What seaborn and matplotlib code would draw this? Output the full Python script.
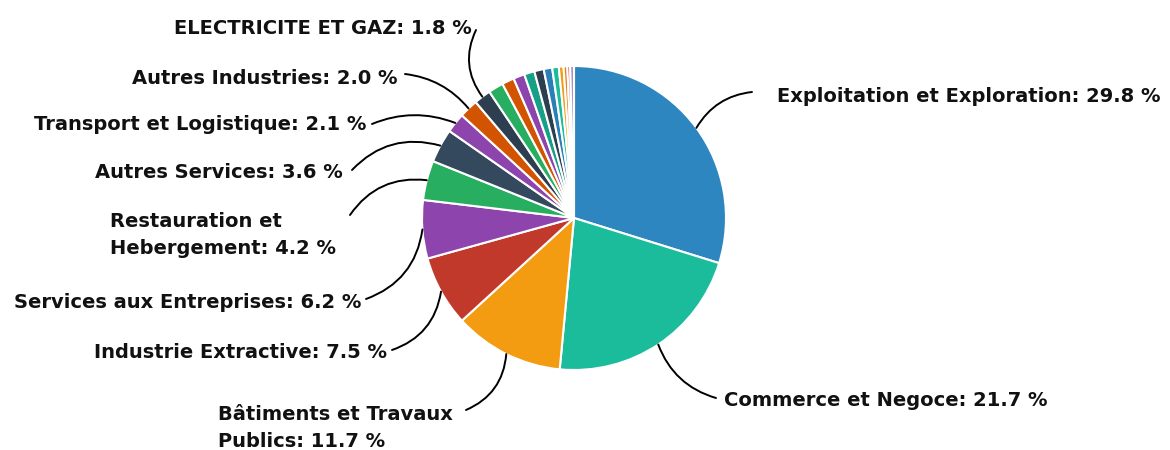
import numpy as np
import matplotlib
matplotlib.use("Agg")
import matplotlib.pyplot as plt
import seaborn as sns

# --- Daten ---
labels = [
    "Exploitation et Exploration", "Commerce et Negoce", "Bâtiments et Travaux\nPublics",
    "Industrie Extractive", "Services aux Entreprises", "Restauration et\nHebergement",
    "Autres Services", "Transport et Logistique", "Autres Industries", "ELECTRICITE ET GAZ",
    "", "", "", "", "", "", "", "", "", "", "",
]
values = [29.8, 21.7, 11.7, 7.5, 6.2, 4.2, 3.6, 2.1, 2.0, 1.8,
          1.6, 1.3, 1.2, 1.1, 1.0, 0.9, 0.7, 0.5, 0.4, 0.3, 0.4]
colors = ["#2e86c1", "#1abc9c", "#f39c12", "#c0392b", "#8e44ad", "#27ae60",
          "#34495e", "#8e44ad", "#d35400", "#2c3e50",
          "#27ae60", "#d35400", "#8e44ad", "#16a085", "#2c3e50", "#2980b9",
          "#1abc9c", "#f39c12", "#e67e22", "#c0392b", "#a98bc4"]

# --- Layout (Pixel, y von oben) ---
W, H = 1170, 450
cx, cy, rad = 574, 218, 152
# (Textposition, ha, Startpunkt der Linie, Krümmung)
layout = [
    ((777, 97), "left", (752, 92), 0.25),
    ((724, 401), "left", (716, 398), -0.25),
    ((218, 428), "left", (466, 410), 0.3),
    ((387, 353), "right", (392, 350), 0.3),
    ((361, 303), "right", (366, 299), 0.3),
    ((110, 235), "left", (350, 215), -0.3),
    ((343, 173), "right", (352, 170), -0.3),
    ((366, 124), "right", (372, 124), -0.2),
    ((398, 78), "right", (405, 74), -0.2),
    ((472, 28), "right", (476, 30), 0.3),
]

sns.set_theme(style="white")
plt.rcParams["font.family"] = ["DejaVu Sans"]

fig = plt.figure(figsize=(W / 100, H / 100), dpi=100)
ax = fig.add_axes([0, 0, 1, 1])

wedges, _ = ax.pie(values, colors=colors, startangle=90, counterclock=False,
                   center=(cx, H - cy), radius=rad,
                   wedgeprops=dict(edgecolor="white", linewidth=1.5))
ax.set_xlim(0, W)
ax.set_ylim(0, H)
ax.set_aspect("equal")
ax.axis("off")

for w, lab, val, (tpos, ha, lstart, curv) in zip(wedges, labels, values, layout):
    ang = np.deg2rad((w.theta1 + w.theta2) / 2)
    px = cx + rad * np.cos(ang)
    py = (H - cy) + rad * np.sin(ang)
    ax.text(tpos[0], H - tpos[1], f"{lab}: {val:.1f} %", ha=ha, va="center",
            fontsize=14, fontweight="bold", color="#111111", linespacing=1.55)
    ax.annotate("", xy=(px, py), xytext=(lstart[0], H - lstart[1]),
                arrowprops=dict(arrowstyle="-", color="black", lw=1.4,
                                connectionstyle=f"arc3,rad={curv}",
                                shrinkA=0, shrinkB=0))

fig.savefig("out.png", dpi=100)
